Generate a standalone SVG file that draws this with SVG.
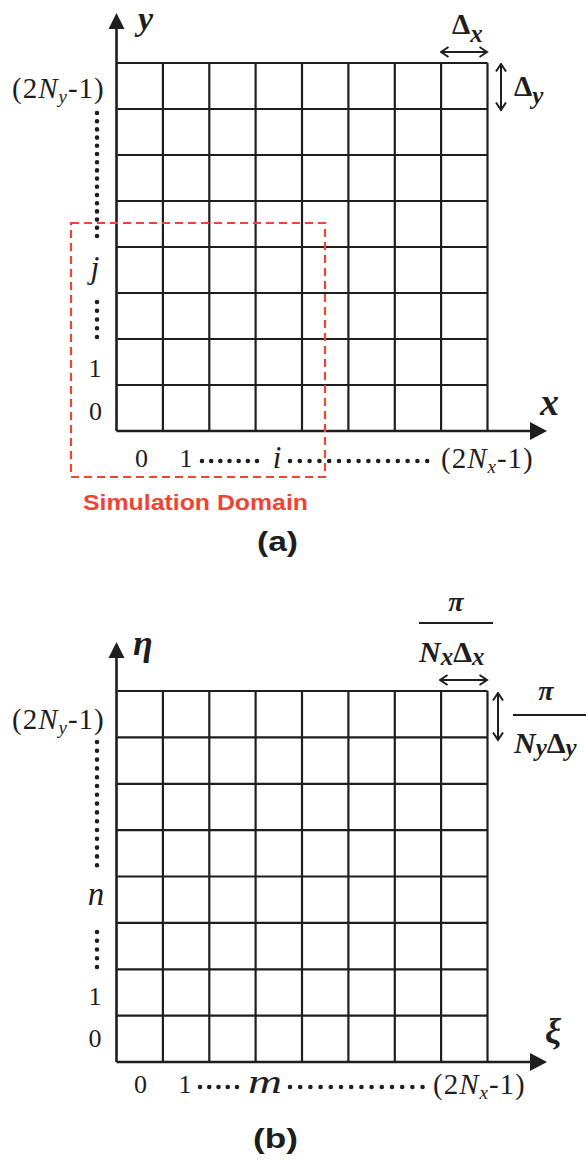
<svg xmlns="http://www.w3.org/2000/svg" width="586" height="1160" viewBox="0 0 586 1160">
<style>
.grid{fill:none;stroke:#1e1e1e;stroke-width:2.2}
.axis{fill:none;stroke:#1e1e1e;stroke-width:2.6}
.head{fill:#1e1e1e}
.dots{fill:none;stroke:#1e1e1e;stroke-width:4.6;stroke-linecap:round}
.dim{fill:none;stroke:#1e1e1e;stroke-width:2;marker-start:url(#oa);marker-end:url(#oa)}
.lbl{font-family:"Liberation Serif",serif;font-size:26px;fill:#1e1e1e}
.rng{font-family:"Liberation Serif",serif;font-size:29px;fill:#1e1e1e;letter-spacing:1px}
.it{font-style:italic}
.ax{font-family:"Liberation Serif",serif;font-size:38px;font-style:italic;font-weight:bold;fill:#1e1e1e}
.m{font-family:"Liberation Serif",serif;font-weight:bold;fill:#1e1e1e}
.cap{font-family:"Liberation Sans",sans-serif;font-weight:bold;font-size:28px;fill:#1e1e1e}
</style>
<defs>
<marker id="oa" markerWidth="10" markerHeight="12" refX="8.5" refY="6" orient="auto-start-reverse" markerUnits="userSpaceOnUse">
<path d="M1,1 L8.5,6 L1,11" fill="none" stroke="#1e1e1e" stroke-width="2"/>
</marker>
</defs>

<g id="panel-a">
<g id="grid-a">
<path class="grid" d="M116.5,63H487.5 M116.5,109H487.5 M116.5,155H487.5 M116.5,201H487.5 M116.5,247H487.5 M116.5,293H487.5 M116.5,339H487.5 M116.5,385H487.5
M162.9,63V431 M209.3,63V431 M255.6,63V431 M302,63V431 M348.4,63V431 M394.8,63V431 M441.1,63V431 M487.5,63V431"/>
</g>
<g id="axes-a">
<path class="axis" d="M116.5,431V26 M116.5,431H532"/>
<polygon class="head" points="116.5,13 108.5,29 124.5,29"/>
<polygon class="head" points="547,431 530,422 530,440"/>
<text class="ax" x="138" y="30" style="font-size:34px">y</text>
<text class="ax" x="540" y="415">x</text>
</g>
<g id="dims-a">
<path class="dim" d="M441,52H487"/>
<path class="dim" d="M501,64V110"/>
<text class="m" x="452" y="34" font-size="29">Δ<tspan font-style="italic" font-size="25" dy="8">x</tspan></text>
<text class="m" x="514" y="96" font-size="29">Δ<tspan font-style="italic" font-size="25" dy="8">y</tspan></text>
</g>
<g id="ylabels-a">
<text class="rng" x="12" y="98">(2<tspan class="it">N</tspan><tspan class="it" font-size="19" dy="5">y</tspan><tspan dy="-5">-1)</tspan></text>
<path class="dots" stroke-dasharray="0 8.2" d="M97,113V238"/>
<text class="lbl it" x="95" y="278" text-anchor="middle" style="font-size:32px">j</text>
<path class="dots" stroke-dasharray="0 8.75" d="M97,302V338"/>
<text class="lbl" x="95" y="377" text-anchor="middle">1</text>
<text class="lbl" x="95.5" y="420" text-anchor="middle">0</text>
</g>
<g id="xlabels-a">
<text class="lbl" x="141.5" y="467" text-anchor="middle">0</text>
<text class="lbl" x="186" y="467" text-anchor="middle">1</text>
<path class="dots" stroke-dasharray="0 9.17" d="M202,461H258"/>
<text class="lbl it" x="277" y="468" text-anchor="middle" style="font-size:31px">i</text>
<path class="dots" stroke-dasharray="0 9.8" d="M290,461H428"/>
<text class="rng" x="441" y="468">(2<tspan class="it">N</tspan><tspan class="it" font-size="19" dy="5">x</tspan><tspan dy="-5">-1)</tspan></text>
</g>
<g id="sim-domain">
<rect x="71" y="223" width="254" height="254" fill="none" stroke="#ee4533" stroke-width="2.2" stroke-dasharray="8 5"/>
<text x="83" y="510" font-family="Liberation Sans, sans-serif" font-weight="bold" font-size="22" fill="#ee4533" textLength="225" lengthAdjust="spacingAndGlyphs">Simulation Domain</text>
</g>
<text class="cap" x="257" y="551" textLength="41" lengthAdjust="spacingAndGlyphs">(a)</text>
</g>

<g id="panel-b">
<g id="grid-b">
<path class="grid" d="M116.5,691H487.5 M116.5,737.4H487.5 M116.5,783.8H487.5 M116.5,830.1H487.5 M116.5,876.5H487.5 M116.5,922.9H487.5 M116.5,969.3H487.5 M116.5,1015.6H487.5
M162.9,691V1062 M209.3,691V1062 M255.6,691V1062 M302,691V1062 M348.4,691V1062 M394.8,691V1062 M441.1,691V1062 M487.5,691V1062"/>
</g>
<g id="axes-b">
<path class="axis" d="M116.5,1062V655 M116.5,1062H532"/>
<polygon class="head" points="116.5,642 108.5,658 124.5,658"/>
<polygon class="head" points="547,1062 530,1053 530,1071"/>
<text class="ax" x="133" y="655" style="font-size:36px">η</text>
<text class="ax" x="545" y="1043" style="font-size:36px">ξ</text>
</g>
<g id="dims-b">
<text class="m it" x="456" y="611" font-size="28" text-anchor="middle">π</text>
<path d="M419,623H493" stroke="#1e1e1e" stroke-width="2.2"/>
<text class="m" x="419" y="662" font-size="30"><tspan font-style="italic">N</tspan><tspan font-style="italic" font-size="25" dy="3">x</tspan><tspan dy="-3">Δ</tspan><tspan font-style="italic" font-size="25" dy="3">x</tspan></text>
<path class="dim" d="M440,680H487"/>
<path class="dim" d="M498,693V740"/>
<text class="m it" x="546" y="700" font-size="28" text-anchor="middle">π</text>
<path d="M513,715H586" stroke="#1e1e1e" stroke-width="2.2"/>
<text class="m" x="514" y="753" font-size="30"><tspan font-style="italic">N</tspan><tspan font-style="italic" font-size="25" dy="3">y</tspan><tspan dy="-3">Δ</tspan><tspan font-style="italic" font-size="25" dy="3">y</tspan></text>
</g>
<g id="ylabels-b">
<text class="rng" x="12" y="729">(2<tspan class="it">N</tspan><tspan class="it" font-size="19" dy="5">y</tspan><tspan dy="-5">-1)</tspan></text>
<path class="dots" stroke-dasharray="0 8.8" d="M97,742V867"/>
<text class="lbl it" x="96" y="905" text-anchor="middle" style="font-size:33px">n</text>
<path class="dots" stroke-dasharray="0 8.75" d="M97,932V968"/>
<text class="lbl" x="95" y="1005" text-anchor="middle">1</text>
<text class="lbl" x="95" y="1047" text-anchor="middle">0</text>
</g>
<g id="xlabels-b">
<text class="lbl" x="140.5" y="1093" text-anchor="middle">0</text>
<text class="lbl" x="185" y="1093" text-anchor="middle">1</text>
<path class="dots" stroke-dasharray="0 9.25" d="M200,1087H238"/>
<text class="lbl it" x="248" y="1093" style="font-size:33px" textLength="34" lengthAdjust="spacingAndGlyphs">m</text>
<path class="dots" stroke-dasharray="0 10.2" d="M290,1087H424"/>
<text class="rng" x="433" y="1094">(2<tspan class="it">N</tspan><tspan class="it" font-size="19" dy="5">x</tspan><tspan dy="-5">-1)</tspan></text>
</g>
<text class="cap" x="253" y="1148" textLength="45" lengthAdjust="spacingAndGlyphs">(b)</text>
</g>
</svg>
